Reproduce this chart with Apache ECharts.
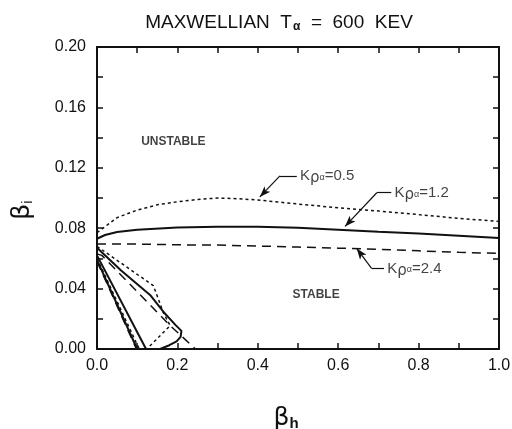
<!DOCTYPE html>
<html>
<head>
<meta charset="utf-8">
<script src="https://cdn.jsdelivr.net/npm/echarts@6/dist/echarts.min.js"></script>
<style>
  html, body { margin: 0; padding: 0; background: #fff; }
  #main { width: 512px; height: 429px; }
</style>
</head>
<body>
<div id="main"></div>
<script>
// stability boundaries, [beta_h, beta_i]
const kr05Upper = [[0, 0.077], [0.02, 0.081], [0.05, 0.087], [0.1, 0.092], [0.15, 0.0955], [0.2, 0.0975], [0.25, 0.099], [0.3, 0.1], [0.35, 0.0995], [0.4, 0.0987], [0.5, 0.096], [0.6, 0.0935], [0.7, 0.0914], [0.8, 0.089], [0.9, 0.0865], [1.0, 0.0845]]
const kr05Lower = [[0, 0.068], [0.07, 0.055], [0.14, 0.042], [0.15, 0.035], [0.165, 0.024], [0.182, 0.0155], [0.124, 0]]
const kr05Inner = [[0, 0.06], [0.105, 0]]

const kr12Upper = [[0, 0.073], [0.02, 0.0755], [0.05, 0.0775], [0.1, 0.079], [0.2, 0.0805], [0.3, 0.081], [0.4, 0.081], [0.5, 0.0803], [0.6, 0.079], [0.7, 0.0777], [0.8, 0.0765], [0.9, 0.075], [1.0, 0.0735]]
const kr12Lower = [[0, 0.067], [0.06, 0.052], [0.132, 0.0358], [0.165, 0.0247], [0.195, 0.016], [0.21, 0.012], [0.208, 0.008], [0.198, 0.005], [0.18, 0.0025], [0.157, 0]]
const kr12InnerA = [[0, 0.062], [0.122, 0]]
const kr12InnerB = [[0, 0.059], [0.1, 0]]

const kr24Upper = [[0, 0.0695], [0.1, 0.0695], [0.2, 0.069], [0.3, 0.0688], [0.4, 0.0682], [0.5, 0.0675], [0.6, 0.0668], [0.7, 0.066], [0.8, 0.065], [0.9, 0.064], [1.0, 0.0633]]
const kr24Lower = [[0, 0.063], [0.012, 0.062], [0.1, 0.038], [0.182, 0.0155], [0.245, 0]]
const kr24Inner = [[0, 0.058], [0.098, 0]]

// labels with leader lines: text position, elbow, arrow tip
const curveLabels = ['0.5', '1.2', '2.4']
const labelPos = [[0.505, 0.1146], [0.74, 0.1035], [0.722, 0.0534]]
const labelElbow = [[0.455, 0.1146], [0.696, 0.1035], [0.683, 0.0534]]
const labelTip = [[0.405, 0.1007], [0.617, 0.0812], [0.646, 0.0666]]

const regionLabels = ['UNSTABLE', 'STABLE']
const regionPos = [[0.19, 0.137], [0.545, 0.0358]]

const FONT = 'Liberation Sans'
const INK = '#111'

const chart = echarts.init(document.getElementById('main'), null, { renderer: 'canvas' })

function curve(data, width, dash) {
  return {
    type: 'line', data, showSymbol: false, silent: true, animation: false,
    lineStyle: { color: INK, width, type: dash }
  }
}

const leaderLines = []
labelPos.forEach((p, i) => {
  const start = [p[0] - 0.008, p[1]]
  leaderLines.push([{ coord: start }, { coord: labelElbow[i] }])
  leaderLines.push([{ coord: labelElbow[i] }, { coord: labelTip[i], symbol: 'arrow', symbolSize: [6, 11] }])
})

const frameAxis = {
  axisLine: { onZero: false, lineStyle: { color: INK, width: 2 } },
  axisTick: { inside: true, length: 6, lineStyle: { color: INK, width: 1.5 } },
  splitLine: { show: false }
}

const option = {
  animation: false,
  title: {
    text: '{a|MAXWELLIAN  T}{s|α}{a|  =  600  KEV}',
    left: 274, top: 7, textAlign: 'center',
    textStyle: {
      rich: {
        a: { fontFamily: FONT, fontSize: 19, fontWeight: 'normal', color: INK },
        s: { fontFamily: FONT, fontSize: 12, fontWeight: 'bold', color: INK, verticalAlign: 'bottom', padding: [9, 0, 0, 1] }
      }
    }
  },
  grid: { left: 97, right: 13, top: 47, bottom: 80, containLabel: false, outerBoundsMode: 'none' },
  xAxis: [
    {
      type: 'value', min: 0, max: 1, interval: 0.1, position: 'bottom',
      ...frameAxis,
      axisLabel: {
        fontFamily: FONT, fontSize: 16, color: INK, margin: 9,
        formatter: v => Math.round(v * 10) % 2 === 0 ? v.toFixed(1) : ''
      },
      name: '{b|β}{s|h}', nameLocation: 'middle', nameGap: 57,
      nameTextStyle: {
        padding: [0, 24, 0, 0],
        rich: {
          b: { fontFamily: 'DejaVu Sans', fontSize: 25, color: INK },
          s: { fontFamily: FONT, fontSize: 15, fontWeight: 'bold', color: INK, verticalAlign: 'bottom', padding: [10, 0, 0, 0] }
        }
      }
    },
    {
      type: 'value', min: 0, max: 1, interval: 0.1, position: 'top',
      ...frameAxis,
      axisLabel: { show: false }
    }
  ],
  yAxis: [
    {
      type: 'value', min: 0, max: 0.2, interval: 0.02, position: 'left',
      ...frameAxis,
      axisLabel: {
        fontFamily: FONT, fontSize: 16, color: INK, margin: 11,
        formatter: v => Math.round(v * 100) % 4 === 0 ? v.toFixed(2) : ''
      },
      name: '{b|β}{s|i}', nameLocation: 'middle', nameGap: 62, nameRotate: 90,
      nameTextStyle: {
        padding: [0, 24, 0, 0],
        rich: {
          b: { fontFamily: 'DejaVu Sans', fontSize: 25, color: INK },
          s: { fontFamily: FONT, fontSize: 15, color: INK, verticalAlign: 'bottom', padding: [10, 0, 0, 0] }
        }
      }
    },
    {
      type: 'value', min: 0, max: 0.2, interval: 0.02, position: 'right',
      ...frameAxis,
      axisLabel: { show: false }
    }
  ],
  series: [
    curve(kr05Upper, 1.5, [3, 3]),
    curve(kr05Lower, 1.5, [3, 3]),
    curve(kr05Inner, 1.5, [3, 3]),
    curve(kr12Upper, 2, 'solid'),
    curve(kr12Lower, 2, 'solid'),
    curve(kr12InnerA, 2, 'solid'),
    curve(kr12InnerB, 2, 'solid'),
    curve(kr24Upper, 1.5, [9, 6]),
    curve(kr24Lower, 1.5, [9, 6]),
    curve(kr24Inner, 1.5, [9, 6]),
    {
      type: 'scatter', symbolSize: 0, silent: true,
      data: curveLabels.map((t, i) => ({ value: labelPos[i], name: t })),
      label: {
        show: true, position: 'right', distance: 0,
        formatter: p => '{k|K}{r|ρ}{s|α}{k|=' + p.name + '}',
        rich: {
          k: { fontFamily: FONT, fontSize: 15, color: INK },
          r: { fontFamily: 'DejaVu Sans', fontSize: 15, color: INK, padding: [5, 0, 0, 0] },
          s: { fontFamily: FONT, fontSize: 9, color: INK, padding: [3, 0, 0, 0] }
        }
      },
      markLine: {
        silent: true, symbol: ['none', 'none'], animation: false,
        label: { show: false },
        lineStyle: { color: INK, width: 1.2, type: 'solid' },
        data: leaderLines
      }
    },
    {
      type: 'scatter', symbolSize: 0, silent: true,
      data: regionLabels.map((t, i) => ({ value: regionPos[i], name: t })),
      label: {
        show: true, position: 'inside', formatter: p => p.name,
        fontFamily: FONT, fontSize: 12, fontWeight: 'bold', color: INK
      }
    }
  ]
}

chart.setOption(option)
</script>
</body>
</html>
